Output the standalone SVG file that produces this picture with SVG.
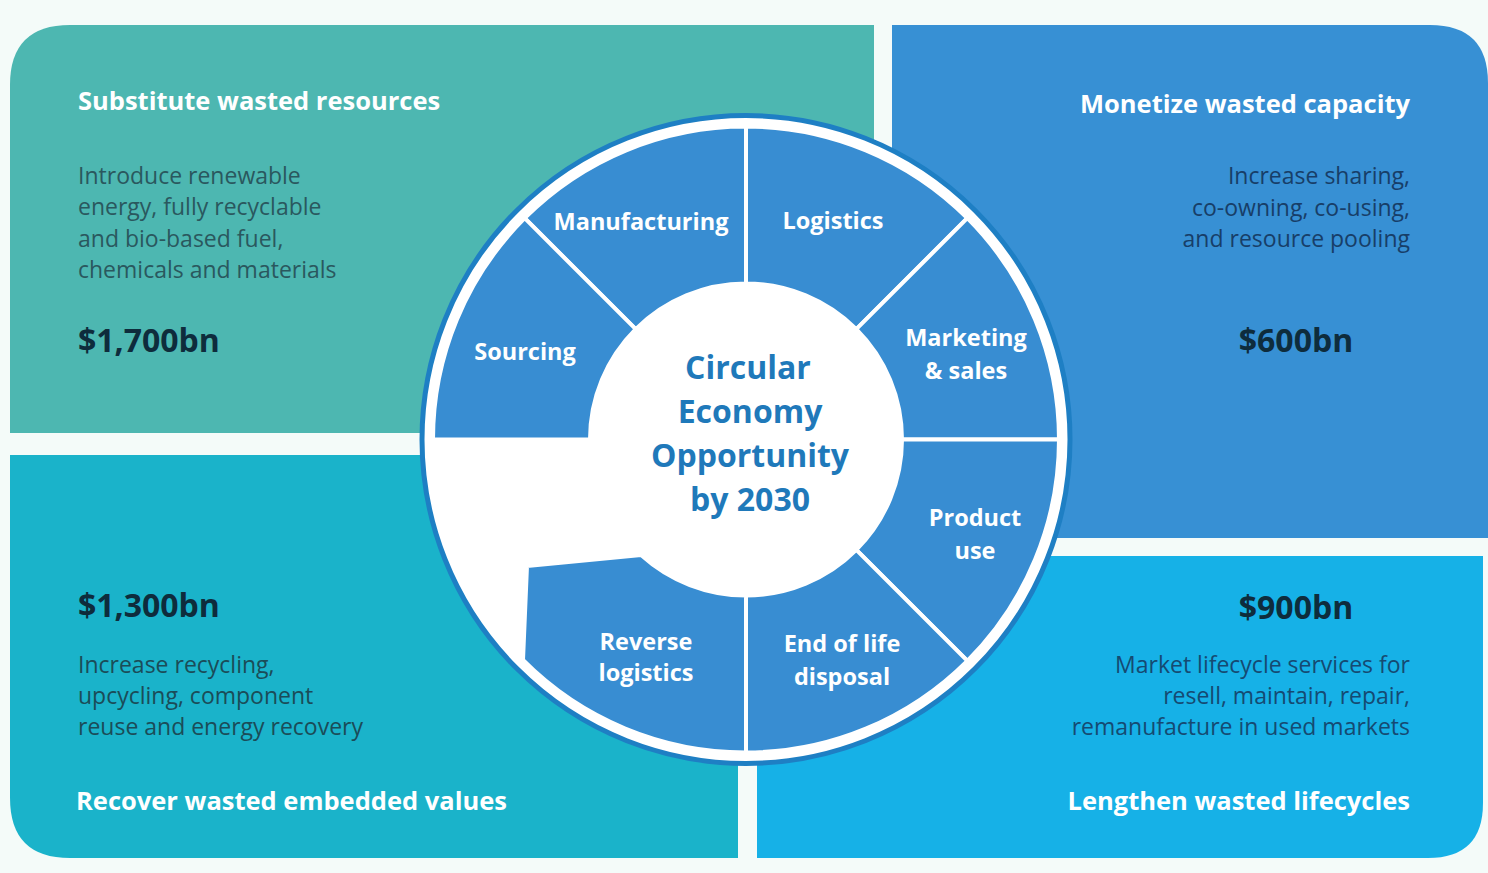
<svg xmlns="http://www.w3.org/2000/svg" width="1488" height="873" viewBox="0 0 1488 873">
  <style>
    .title { font-family: "Open Sans", "Liberation Sans", sans-serif; font-weight: 700; font-size: 25.5px; fill: #ffffff; }
    .body { font-family: "Open Sans", "Liberation Sans", sans-serif; font-weight: 400; font-size: 23px; }
    .amount { font-family: "Open Sans", "Liberation Sans", sans-serif; font-weight: 700; font-size: 32px; fill: #0e2c3c; }
    .seg { fill: #388dd2; stroke: #ffffff; stroke-width: 4; stroke-linejoin: miter; }
    .seglabel { font-family: "Open Sans", "Liberation Sans", sans-serif; font-weight: 700; font-size: 23.5px; fill: #ffffff; text-anchor: middle; }
    .core { font-family: "Open Sans", "Liberation Sans", sans-serif; font-weight: 700; font-size: 32px; fill: #1f79ba; text-anchor: middle; }
  </style>

  <!-- page background -->
  <rect x="0" y="0" width="1488" height="873" fill="#f4fbf9"/>

  <!-- four value quadrants -->
  <g id="q-substitute">
    <path d="M10,85 Q10,25 70,25 L874,25 L874,433 L10,433 Z" fill="#4db7b1"/>
    <text class="title" x="78" y="110">Substitute wasted resources</text>
    <g class="body" fill="#2a585e">
      <text x="78" y="184">Introduce renewable</text>
      <text x="78" y="215">energy, fully recyclable</text>
      <text x="78" y="247">and bio-based fuel,</text>
      <text x="78" y="278">chemicals and materials</text>
    </g>
    <text class="amount" x="78" y="352">$1,700bn</text>
  </g>

  <g id="q-monetize">
    <path d="M892,25 L1430,25 Q1488,25 1488,83 L1488,538 L892,538 Z" fill="#3790d4"/>
    <text class="title" x="1410" y="113" text-anchor="end">Monetize wasted capacity</text>
    <g class="body" fill="#173e68" text-anchor="end">
      <text x="1410" y="184">Increase sharing,</text>
      <text x="1410" y="216">co-owning, co-using,</text>
      <text x="1410" y="247">and resource pooling</text>
    </g>
    <text class="amount" x="1296" y="352" text-anchor="middle">$600bn</text>
  </g>

  <g id="q-recover">
    <path d="M10,455 L738,455 L738,858 L70,858 Q10,858 10,798 Z" fill="#1ab3ca"/>
    <text class="amount" x="78" y="617">$1,300bn</text>
    <g class="body" fill="#1b4c58">
      <text x="78" y="673">Increase recycling,</text>
      <text x="78" y="704">upcycling, component</text>
      <text x="78" y="735">reuse and energy recovery</text>
    </g>
    <text class="title" x="76" y="810">Recover wasted embedded values</text>
  </g>

  <g id="q-lengthen">
    <path d="M757,556 L1483,556 L1483,803 Q1483,858 1428,858 L757,858 Z" fill="#16b1e7"/>
    <text class="amount" x="1296" y="619" text-anchor="middle">$900bn</text>
    <g class="body" fill="#154a72" text-anchor="end">
      <text x="1410" y="673">Market lifecycle services for</text>
      <text x="1410" y="704">resell, maintain, repair,</text>
      <text x="1410" y="735">remanufacture in used markets</text>
    </g>
    <text class="title" x="1410" y="810" text-anchor="end">Lengthen wasted lifecycles</text>
  </g>

  <!-- value chain wheel -->
  <g id="wheel">
    <circle cx="746" cy="439.5" r="324" fill="#ffffff" stroke="#1e7fc4" stroke-width="5"/>

    <g id="seg-logistics">
      <path class="seg" d="M856.31,329.19 L967.33,218.17 A313,313 0 0 0 746,126.5 L746,283.5 A156,156 0 0 1 856.31,329.19 Z"/>
      <text class="seglabel" x="833" y="229">Logistics</text>
    </g>
    <g id="seg-manufacturing">
      <path class="seg" d="M746,283.5 L746,126.5 A313,313 0 0 0 524.67,218.17 L635.69,329.19 A156,156 0 0 1 746,283.5 Z"/>
      <text class="seglabel" x="641" y="230">Manufacturing</text>
    </g>
    <g id="seg-sourcing">
      <path class="seg" d="M635.69,329.19 L524.67,218.17 A313,313 0 0 0 433,439.5 L590,439.5 A156,156 0 0 1 635.69,329.19 Z"/>
      <text class="seglabel" x="525" y="360">Sourcing</text>
    </g>
    <g id="seg-marketing">
      <path class="seg" d="M902,439.5 L1059,439.5 A313,313 0 0 0 967.33,218.17 L856.31,329.19 A156,156 0 0 1 902,439.5 Z"/>
      <text class="seglabel" x="966" y="346">Marketing</text>
      <text class="seglabel" x="966" y="379">&amp; sales</text>
    </g>
    <g id="seg-product-use">
      <path class="seg" d="M856.31,549.81 L967.33,660.83 A313,313 0 0 0 1059,439.5 L902,439.5 A156,156 0 0 1 856.31,549.81 Z"/>
      <text class="seglabel" x="975" y="526">Product</text>
      <text class="seglabel" x="975" y="559">use</text>
    </g>
    <g id="seg-end-of-life">
      <path class="seg" d="M746,595.5 L746,752.5 A313,313 0 0 0 967.33,660.83 L856.31,549.81 A156,156 0 0 1 746,595.5 Z"/>
      <text class="seglabel" x="842" y="652">End of life</text>
      <text class="seglabel" x="842" y="685">disposal</text>
    </g>
    <g id="seg-reverse-logistics">
      <path class="seg" d="M527,566 L641.1,555 A156,156 0 0 0 746,595.5 L746,752.5 A313,313 0 0 1 523,660 Z"/>
      <text class="seglabel" x="646" y="650">Reverse</text>
      <text class="seglabel" x="646" y="681">logistics</text>
    </g>

    <g id="core">
      <circle cx="746" cy="439.5" r="156" fill="#ffffff"/>
      <text class="core" x="748" y="379">Circular</text>
      <text class="core" x="750" y="423">Economy</text>
      <text class="core" x="750" y="467">Opportunity</text>
      <text class="core" x="750" y="511">by 2030</text>
    </g>
  </g>

  <g id="connectors"/>
</svg>
